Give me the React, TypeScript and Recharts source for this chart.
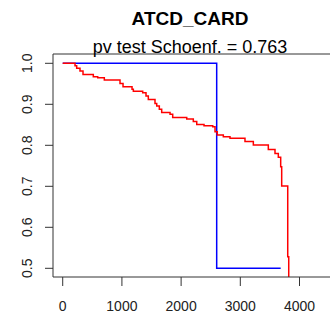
import React from 'react';
import { LineChart, Line, XAxis, YAxis, ReferenceLine } from 'recharts';

// Kaplan-Meier style step curves (time, survival)
const redTimes = [
  0, 208, 236, 292, 343, 517, 591, 703, 968, 1019, 1171, 1193, 1351, 1407, 1446,
  1559, 1588, 1632, 1672, 1813, 1858, 2095, 2206, 2264, 2387, 2534, 2573, 2611,
  2713, 2826, 3079, 3220, 3473, 3586, 3642, 3682, 3699, 3801, 3818,
];
const redValues = [
  1.0, 0.994, 0.988, 0.981, 0.973, 0.967, 0.965, 0.959, 0.951, 0.943, 0.937, 0.932,
  0.928, 0.92, 0.912, 0.902, 0.896, 0.888, 0.88, 0.876, 0.868, 0.864, 0.858, 0.851,
  0.848, 0.845, 0.833, 0.825, 0.821, 0.817, 0.809, 0.801, 0.79, 0.78, 0.771, 0.748,
  0.701, 0.528, 0.352,
];
const blueTimes = [0, 2601, 3682];
const blueValues = [1.0, 0.5, 0.5];

const xTicks = [0, 1000, 2000, 3000, 4000];
const yTicks = [0.5, 0.6, 0.7, 0.8, 0.9, 1.0];

const title = 'ATCD_CARD';
const subtitle = 'pv test Schoenf. = 0.763';

const xDomain: [number, number] = [-164, 4515];
const yDomain: [number, number] = [0.4788, 1.0227];

const redData = redTimes.map((t, i) => ({ t, s: redValues[i] }));
const blueData = blueTimes.map((t, i) => ({ t, s: blueValues[i] }));

const FONT = '"Liberation Sans", Arial, sans-serif';
const AXIS = '#333';

const YTick = (props: any) => {
  const { x, y, payload } = props;
  const bx = x - 13;
  return (
    <text
      x={bx}
      y={y}
      transform={`rotate(-90, ${bx}, ${y})`}
      textAnchor="middle"
      fontSize={14}
      fontFamily={FONT}
      fill="#222"
    >
      {payload.value.toFixed(1)}
    </text>
  );
};

export default function App() {
  return (
    <div style={{ position: 'absolute', left: 0, top: 0, width: 330, height: 325, background: '#fff' }}>
      <LineChart
        width={330}
        height={325}
        margin={{ top: 54, right: 0, bottom: 0, left: 0 }}
      >
        <XAxis
          type="number"
          dataKey="t"
          domain={xDomain}
          ticks={xTicks}
          allowDataOverflow
          height={48}
          tickSize={9}
          tickMargin={15}
          stroke={AXIS}
          tick={{ fontSize: 14, fontFamily: FONT, fill: '#222' }}
        />
        <YAxis
          type="number"
          dataKey="s"
          domain={yDomain}
          ticks={yTicks}
          allowDataOverflow
          width={53}
          tickSize={8}
          tickMargin={0}
          stroke={AXIS}
          tick={<YTick />}
        />
        <ReferenceLine y={yDomain[1]} stroke={AXIS} strokeWidth={1} />
        <Line
          data={blueData}
          dataKey="s"
          type="stepAfter"
          stroke="#0000ff"
          strokeWidth={1.5}
          dot={false}
          activeDot={false}
          isAnimationActive={false}
        />
        <Line
          data={redData}
          dataKey="s"
          type="stepAfter"
          stroke="#ff0000"
          strokeWidth={1.5}
          dot={false}
          activeDot={false}
          isAnimationActive={false}
        />
      </LineChart>
      <svg
        width={330}
        height={60}
        style={{ position: 'absolute', left: 0, top: 0, pointerEvents: 'none' }}
      >
        <text x={190} y={25} textAnchor="middle" fontSize={19} fontWeight="bold" fontFamily={FONT} fill="#000">
          {title}
        </text>
        <text x={190} y={52.5} textAnchor="middle" fontSize={18} fontFamily={FONT} fill="#000">
          {subtitle}
        </text>
      </svg>
    </div>
  );
}
